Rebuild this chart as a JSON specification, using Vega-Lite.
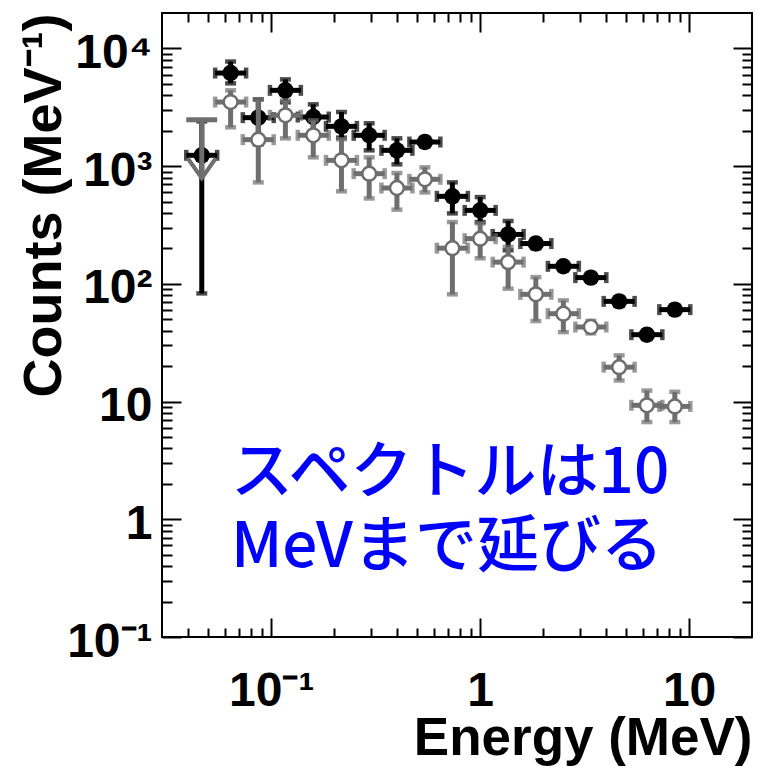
{
  "$schema": "https://vega.github.io/schema/vega-lite/v6.json",
  "autosize": {"type": "none"},
  "width": 590,
  "height": 624,
  "padding": {"left": 162, "top": 13, "right": 17, "bottom": 134},
  "background": "white",
  "config": {
    "view": {"stroke": "#000", "strokeWidth": 2},
    "axis": {
      "domain": false, "grid": false, "ticks": true, "tickColor": "#000", "tickWidth": 2,
      "labelFont": "Liberation Sans, Arial, sans-serif", "labelFontWeight": "bold", "labelFontSize": 48, "labelColor": "#000",
      "titleFont": "Liberation Sans, Arial, sans-serif", "titleFontWeight": "bold", "titleFontSize": 52, "titleColor": "#000",
      "labelOverlap": false, "labelFlush": false, "labelBound": false
    }
  },
  "datasets": {
    "black": [
      {"x": 0.0465, "xlo": 0.0392, "xhi": 0.0551, "y": 1236, "ylo": 83, "yhi": 2400},
      {"x": 0.0639, "xlo": 0.0539, "xhi": 0.0758, "y": 6180, "ylo": 5050, "yhi": 7740},
      {"x": 0.0867, "xlo": 0.0731, "xhi": 0.1028, "y": 2582, "ylo": 1532, "yhi": 3693},
      {"x": 0.1169, "xlo": 0.0986, "xhi": 0.1386, "y": 4406, "ylo": 3484, "yhi": 5460},
      {"x": 0.1589, "xlo": 0.134, "xhi": 0.1885, "y": 2614, "ylo": 1828, "yhi": 3350},
      {"x": 0.2168, "xlo": 0.1828, "xhi": 0.2571, "y": 2178, "ylo": 1746, "yhi": 2884},
      {"x": 0.2943, "xlo": 0.2481, "xhi": 0.349, "y": 1828, "ylo": 1362, "yhi": 2312},
      {"x": 0.3995, "xlo": 0.3368, "xhi": 0.4738, "y": 1362, "ylo": 1036, "yhi": 1723},
      {"x": 0.5437, "xlo": 0.4584, "xhi": 0.6448, "y": 1603, "ylo": 1470, "yhi": 1750},
      {"x": 0.7362, "xlo": 0.6207, "xhi": 0.8731, "y": 554, "ylo": 397, "yhi": 728},
      {"x": 1.0, "xlo": 0.8432, "xhi": 1.186, "y": 421, "ylo": 335, "yhi": 546},
      {"x": 1.361, "xlo": 1.148, "xhi": 1.614, "y": 263, "ylo": 193, "yhi": 342},
      {"x": 1.847, "xlo": 1.557, "xhi": 2.191, "y": 220, "ylo": 200, "yhi": 240},
      {"x": 2.501, "xlo": 2.109, "xhi": 2.966, "y": 141, "ylo": 130, "yhi": 152},
      {"x": 3.386, "xlo": 2.855, "xhi": 4.016, "y": 113, "ylo": 104, "yhi": 122},
      {"x": 4.626, "xlo": 3.901, "xhi": 5.486, "y": 71, "ylo": 65, "yhi": 77},
      {"x": 6.278, "xlo": 5.293, "xhi": 7.446, "y": 37, "ylo": 34, "yhi": 40},
      {"x": 8.544, "xlo": 7.204, "xhi": 10.13, "y": 60.4, "ylo": 55.5, "yhi": 65.5}
    ],
    "gray": [
      {"x": 0.0639, "xlo": 0.0539, "xhi": 0.0758, "y": 3505, "ylo": 2137, "yhi": 4406},
      {"x": 0.0867, "xlo": 0.0731, "xhi": 0.1028, "y": 1679, "ylo": 728, "yhi": 3693},
      {"x": 0.1169, "xlo": 0.0986, "xhi": 0.1386, "y": 2703, "ylo": 1723, "yhi": 3622},
      {"x": 0.1589, "xlo": 0.134, "xhi": 0.1885, "y": 1828, "ylo": 1188, "yhi": 2449},
      {"x": 0.2168, "xlo": 0.1828, "xhi": 0.2571, "y": 1120, "ylo": 611, "yhi": 1690},
      {"x": 0.2943, "xlo": 0.2481, "xhi": 0.349, "y": 863, "ylo": 532, "yhi": 1188},
      {"x": 0.3995, "xlo": 0.3368, "xhi": 0.4738, "y": 652, "ylo": 427, "yhi": 874},
      {"x": 0.5437, "xlo": 0.4584, "xhi": 0.6448, "y": 773, "ylo": 598, "yhi": 977},
      {"x": 0.7362, "xlo": 0.6207, "xhi": 0.8731, "y": 201, "ylo": 81.5, "yhi": 335},
      {"x": 1.0, "xlo": 0.8432, "xhi": 1.186, "y": 242, "ylo": 165, "yhi": 327},
      {"x": 1.361, "xlo": 1.148, "xhi": 1.614, "y": 153, "ylo": 91, "yhi": 206},
      {"x": 1.847, "xlo": 1.557, "xhi": 2.191, "y": 81.5, "ylo": 48.3, "yhi": 114},
      {"x": 2.501, "xlo": 2.109, "xhi": 2.966, "y": 55.8, "ylo": 38.9, "yhi": 72.4},
      {"x": 3.386, "xlo": 2.855, "xhi": 4.016, "y": 43, "ylo": 38, "yhi": 48.5},
      {"x": 4.626, "xlo": 3.901, "xhi": 5.486, "y": 19.6, "ylo": 15.1, "yhi": 24.7},
      {"x": 6.278, "xlo": 5.293, "xhi": 7.446, "y": 9.3, "ylo": 6.7, "yhi": 12.4},
      {"x": 8.544, "xlo": 7.204, "xhi": 10.13, "y": 9.1, "ylo": 6.7, "yhi": 12.1}
    ],
    "limit": [
      {"x": 0.0465, "xlo": 0.0392, "xhi": 0.0551, "y": 2477, "tip": 789}
    ],
    "note": [
      {"x": 0.0641, "y": 1.66, "t": "スペクトルは10"},
      {"x": 0.0641, "y": 0.391, "t": "MeVまで延びる"}
    ]
  },
  "layer": [
    {
      "data": {"name": "black"},
      "mark": {"type": "point", "opacity": 0},
      "encoding": {
        "x": {"field": "x", "type": "quantitative",
          "scale": {"type": "log", "domain": [0.03, 20], "nice": false},
          "axis": {
            "orient": "bottom",
            "values": [0.04, 0.05, 0.06, 0.07, 0.08, 0.09, 0.1, 0.2, 0.3, 0.4, 0.5, 0.6, 0.7, 0.8, 0.9, 1, 2, 3, 4, 5, 6, 7, 8, 9, 10],
            "labelExpr": "datum.value == 0.1 ? '10⁻¹' : datum.value == 1 ? '1' : datum.value == 10 ? '10' : ''",
            "tickSize": {"condition": {"test": "datum.value == 0.1 || datum.value == 1 || datum.value == 10", "value": -19}, "value": -9},
            "labelPadding": 49,
            "labelBaseline": "top",
            "title": "Energy (MeV)",
            "titleAnchor": "end",
            "titleFontSize": 53,
            "titlePadding": -13
          }
        },
        "y": {"field": "y", "type": "quantitative",
          "scale": {"type": "log", "domain": [0.1, 20000], "nice": false},
          "axis": {
            "orient": "left",
            "values": [0.1, 0.2, 0.3, 0.4, 0.5, 0.6, 0.7, 0.8, 0.9, 1, 2, 3, 4, 5, 6, 7, 8, 9, 10, 20, 30, 40, 50, 60, 70, 80, 90, 100, 200, 300, 400, 500, 600, 700, 800, 900, 1000, 2000, 3000, 4000, 5000, 6000, 7000, 8000, 9000, 10000],
            "labelExpr": "datum.value == 10000 ? '10⁴' : datum.value == 1000 ? '10³' : datum.value == 100 ? '10²' : datum.value == 10 ? '10' : datum.value == 1 ? '1' : datum.value == 0.1 ? '10⁻¹' : ''",
            "tickSize": {"condition": {"test": "datum.value == 0.1 || datum.value == 1 || datum.value == 10 || datum.value == 100 || datum.value == 1000 || datum.value == 10000", "value": -19}, "value": -10},
            "labelPadding": 29,
            "labelOffset": 5,
            "title": "Counts (MeV⁻¹)",
            "titleAnchor": "end",
            "titleFontSize": 54,
            "titlePadding": -5
          }
        }
      }
    },
    {
      "data": {"name": "black"},
      "mark": {"type": "point", "opacity": 0},
      "encoding": {
        "x": {"field": "x", "type": "quantitative",
          "scale": {"type": "log", "domain": [0.03, 20], "nice": false},
          "axis": {
            "orient": "top", "labels": false, "title": null,
            "values": [0.04, 0.05, 0.06, 0.07, 0.08, 0.09, 0.1, 0.2, 0.3, 0.4, 0.5, 0.6, 0.7, 0.8, 0.9, 1, 2, 3, 4, 5, 6, 7, 8, 9, 10],
            "tickSize": {"condition": {"test": "datum.value == 0.1 || datum.value == 1 || datum.value == 10", "value": -19}, "value": -9}
          }
        },
        "y": {"field": "y", "type": "quantitative",
          "scale": {"type": "log", "domain": [0.1, 20000], "nice": false},
          "axis": {
            "orient": "right", "labels": false, "title": null,
            "values": [0.1, 0.2, 0.3, 0.4, 0.5, 0.6, 0.7, 0.8, 0.9, 1, 2, 3, 4, 5, 6, 7, 8, 9, 10, 20, 30, 40, 50, 60, 70, 80, 90, 100, 200, 300, 400, 500, 600, 700, 800, 900, 1000, 2000, 3000, 4000, 5000, 6000, 7000, 8000, 9000, 10000],
            "tickSize": {"condition": {"test": "datum.value == 0.1 || datum.value == 1 || datum.value == 10 || datum.value == 100 || datum.value == 1000 || datum.value == 10000", "value": -19}, "value": -10}
          }
        }
      }
    },
    {"data": {"name": "black"}, "mark": {"type": "rule", "color": "#000", "strokeWidth": 5},
     "encoding": {"x": {"field": "xlo", "type": "quantitative", "scale": {"type": "log", "domain": [0.03, 20], "nice": false}, "axis": null}, "x2": {"field": "xhi"}, "y": {"field": "y", "type": "quantitative", "scale": {"type": "log", "domain": [0.1, 20000], "nice": false}, "axis": null}}},
    {"data": {"name": "black"}, "mark": {"type": "rule", "color": "#000", "strokeWidth": 5},
     "encoding": {"x": {"field": "x", "type": "quantitative", "scale": {"type": "log", "domain": [0.03, 20], "nice": false}, "axis": null}, "y": {"field": "ylo", "type": "quantitative", "scale": {"type": "log", "domain": [0.1, 20000], "nice": false}, "axis": null}, "y2": {"field": "yhi"}}},
    {"data": {"name": "black"}, "mark": {"type": "tick", "orient": "vertical", "color": "#000", "size": 11, "thickness": 4.5},
     "encoding": {"x": {"field": "xlo", "type": "quantitative", "scale": {"type": "log", "domain": [0.03, 20], "nice": false}, "axis": null}, "y": {"field": "y", "type": "quantitative", "scale": {"type": "log", "domain": [0.1, 20000], "nice": false}, "axis": null}}},
    {"data": {"name": "black"}, "mark": {"type": "tick", "orient": "vertical", "color": "#000", "size": 11, "thickness": 4.5},
     "encoding": {"x": {"field": "xhi", "type": "quantitative", "scale": {"type": "log", "domain": [0.03, 20], "nice": false}, "axis": null}, "y": {"field": "y", "type": "quantitative", "scale": {"type": "log", "domain": [0.1, 20000], "nice": false}, "axis": null}}},
    {"data": {"name": "black"}, "mark": {"type": "tick", "orient": "horizontal", "color": "#000", "size": 11, "thickness": 4.5},
     "encoding": {"x": {"field": "x", "type": "quantitative", "scale": {"type": "log", "domain": [0.03, 20], "nice": false}, "axis": null}, "y": {"field": "ylo", "type": "quantitative", "scale": {"type": "log", "domain": [0.1, 20000], "nice": false}, "axis": null}}},
    {"data": {"name": "black"}, "mark": {"type": "tick", "orient": "horizontal", "color": "#000", "size": 11, "thickness": 4.5},
     "encoding": {"x": {"field": "x", "type": "quantitative", "scale": {"type": "log", "domain": [0.03, 20], "nice": false}, "axis": null}, "y": {"field": "yhi", "type": "quantitative", "scale": {"type": "log", "domain": [0.1, 20000], "nice": false}, "axis": null}}},
    {"data": {"name": "black"}, "mark": {"type": "point", "shape": "circle", "filled": true, "color": "#000", "size": 270, "opacity": 1},
     "encoding": {"x": {"field": "x", "type": "quantitative", "scale": {"type": "log", "domain": [0.03, 20], "nice": false}, "axis": null}, "y": {"field": "y", "type": "quantitative", "scale": {"type": "log", "domain": [0.1, 20000], "nice": false}, "axis": null}}},
    {"data": {"name": "gray"}, "mark": {"type": "rule", "color": "#6e6e6e", "strokeWidth": 5},
     "encoding": {"x": {"field": "xlo", "type": "quantitative", "scale": {"type": "log", "domain": [0.03, 20], "nice": false}, "axis": null}, "x2": {"field": "xhi"}, "y": {"field": "y", "type": "quantitative", "scale": {"type": "log", "domain": [0.1, 20000], "nice": false}, "axis": null}}},
    {"data": {"name": "gray"}, "mark": {"type": "rule", "color": "#6e6e6e", "strokeWidth": 5},
     "encoding": {"x": {"field": "x", "type": "quantitative", "scale": {"type": "log", "domain": [0.03, 20], "nice": false}, "axis": null}, "y": {"field": "ylo", "type": "quantitative", "scale": {"type": "log", "domain": [0.1, 20000], "nice": false}, "axis": null}, "y2": {"field": "yhi"}}},
    {"data": {"name": "gray"}, "mark": {"type": "tick", "orient": "vertical", "color": "#6e6e6e", "size": 11, "thickness": 4.5},
     "encoding": {"x": {"field": "xlo", "type": "quantitative", "scale": {"type": "log", "domain": [0.03, 20], "nice": false}, "axis": null}, "y": {"field": "y", "type": "quantitative", "scale": {"type": "log", "domain": [0.1, 20000], "nice": false}, "axis": null}}},
    {"data": {"name": "gray"}, "mark": {"type": "tick", "orient": "vertical", "color": "#6e6e6e", "size": 11, "thickness": 4.5},
     "encoding": {"x": {"field": "xhi", "type": "quantitative", "scale": {"type": "log", "domain": [0.03, 20], "nice": false}, "axis": null}, "y": {"field": "y", "type": "quantitative", "scale": {"type": "log", "domain": [0.1, 20000], "nice": false}, "axis": null}}},
    {"data": {"name": "gray"}, "mark": {"type": "tick", "orient": "horizontal", "color": "#6e6e6e", "size": 11, "thickness": 4.5},
     "encoding": {"x": {"field": "x", "type": "quantitative", "scale": {"type": "log", "domain": [0.03, 20], "nice": false}, "axis": null}, "y": {"field": "ylo", "type": "quantitative", "scale": {"type": "log", "domain": [0.1, 20000], "nice": false}, "axis": null}}},
    {"data": {"name": "gray"}, "mark": {"type": "tick", "orient": "horizontal", "color": "#6e6e6e", "size": 11, "thickness": 4.5},
     "encoding": {"x": {"field": "x", "type": "quantitative", "scale": {"type": "log", "domain": [0.03, 20], "nice": false}, "axis": null}, "y": {"field": "yhi", "type": "quantitative", "scale": {"type": "log", "domain": [0.1, 20000], "nice": false}, "axis": null}}},
    {"data": {"name": "gray"}, "mark": {"type": "point", "shape": "circle", "filled": true, "fill": "#ffffff", "stroke": "#6e6e6e", "strokeWidth": 2.5, "size": 190, "opacity": 1},
     "encoding": {"x": {"field": "x", "type": "quantitative", "scale": {"type": "log", "domain": [0.03, 20], "nice": false}, "axis": null}, "y": {"field": "y", "type": "quantitative", "scale": {"type": "log", "domain": [0.1, 20000], "nice": false}, "axis": null}}},
    {"data": {"name": "limit"}, "mark": {"type": "rule", "color": "#6e6e6e", "strokeWidth": 5},
     "encoding": {"x": {"field": "xlo", "type": "quantitative", "scale": {"type": "log", "domain": [0.03, 20], "nice": false}, "axis": null}, "x2": {"field": "xhi"}, "y": {"field": "y", "type": "quantitative", "scale": {"type": "log", "domain": [0.1, 20000], "nice": false}, "axis": null}}},
    {"data": {"name": "limit"}, "mark": {"type": "rule", "color": "#6e6e6e", "strokeWidth": 5},
     "encoding": {"x": {"field": "x", "type": "quantitative", "scale": {"type": "log", "domain": [0.03, 20], "nice": false}, "axis": null}, "y": {"field": "tip", "type": "quantitative", "scale": {"type": "log", "domain": [0.1, 20000], "nice": false}, "axis": null}, "y2": {"field": "y"}}},
    {"data": {"name": "limit"}, "mark": {"type": "point", "shape": "M -0.7 -1 L 0 0 L 0.7 -1", "filled": false, "stroke": "#6e6e6e", "strokeWidth": 4, "size": 1600, "opacity": 1, "strokeJoin": "miter"},
     "encoding": {"x": {"field": "x", "type": "quantitative", "scale": {"type": "log", "domain": [0.03, 20], "nice": false}, "axis": null}, "y": {"field": "tip", "type": "quantitative", "scale": {"type": "log", "domain": [0.1, 20000], "nice": false}, "axis": null}}},
    {"data": {"name": "note"}, "mark": {"type": "text", "align": "left", "baseline": "alphabetic", "font": "Noto Sans CJK JP", "fontWeight": 500, "fontSize": 62, "color": "#0000ff"},
     "encoding": {
       "x": {"field": "x", "type": "quantitative", "scale": {"type": "log", "domain": [0.03, 20], "nice": false}, "axis": null},
       "y": {"field": "y", "type": "quantitative", "scale": {"type": "log", "domain": [0.1, 20000], "nice": false}, "axis": null},
       "text": {"field": "t"}
     }}
  ],
  "resolve": {
    "axis": {"x": "independent", "y": "independent"}
  }
}
